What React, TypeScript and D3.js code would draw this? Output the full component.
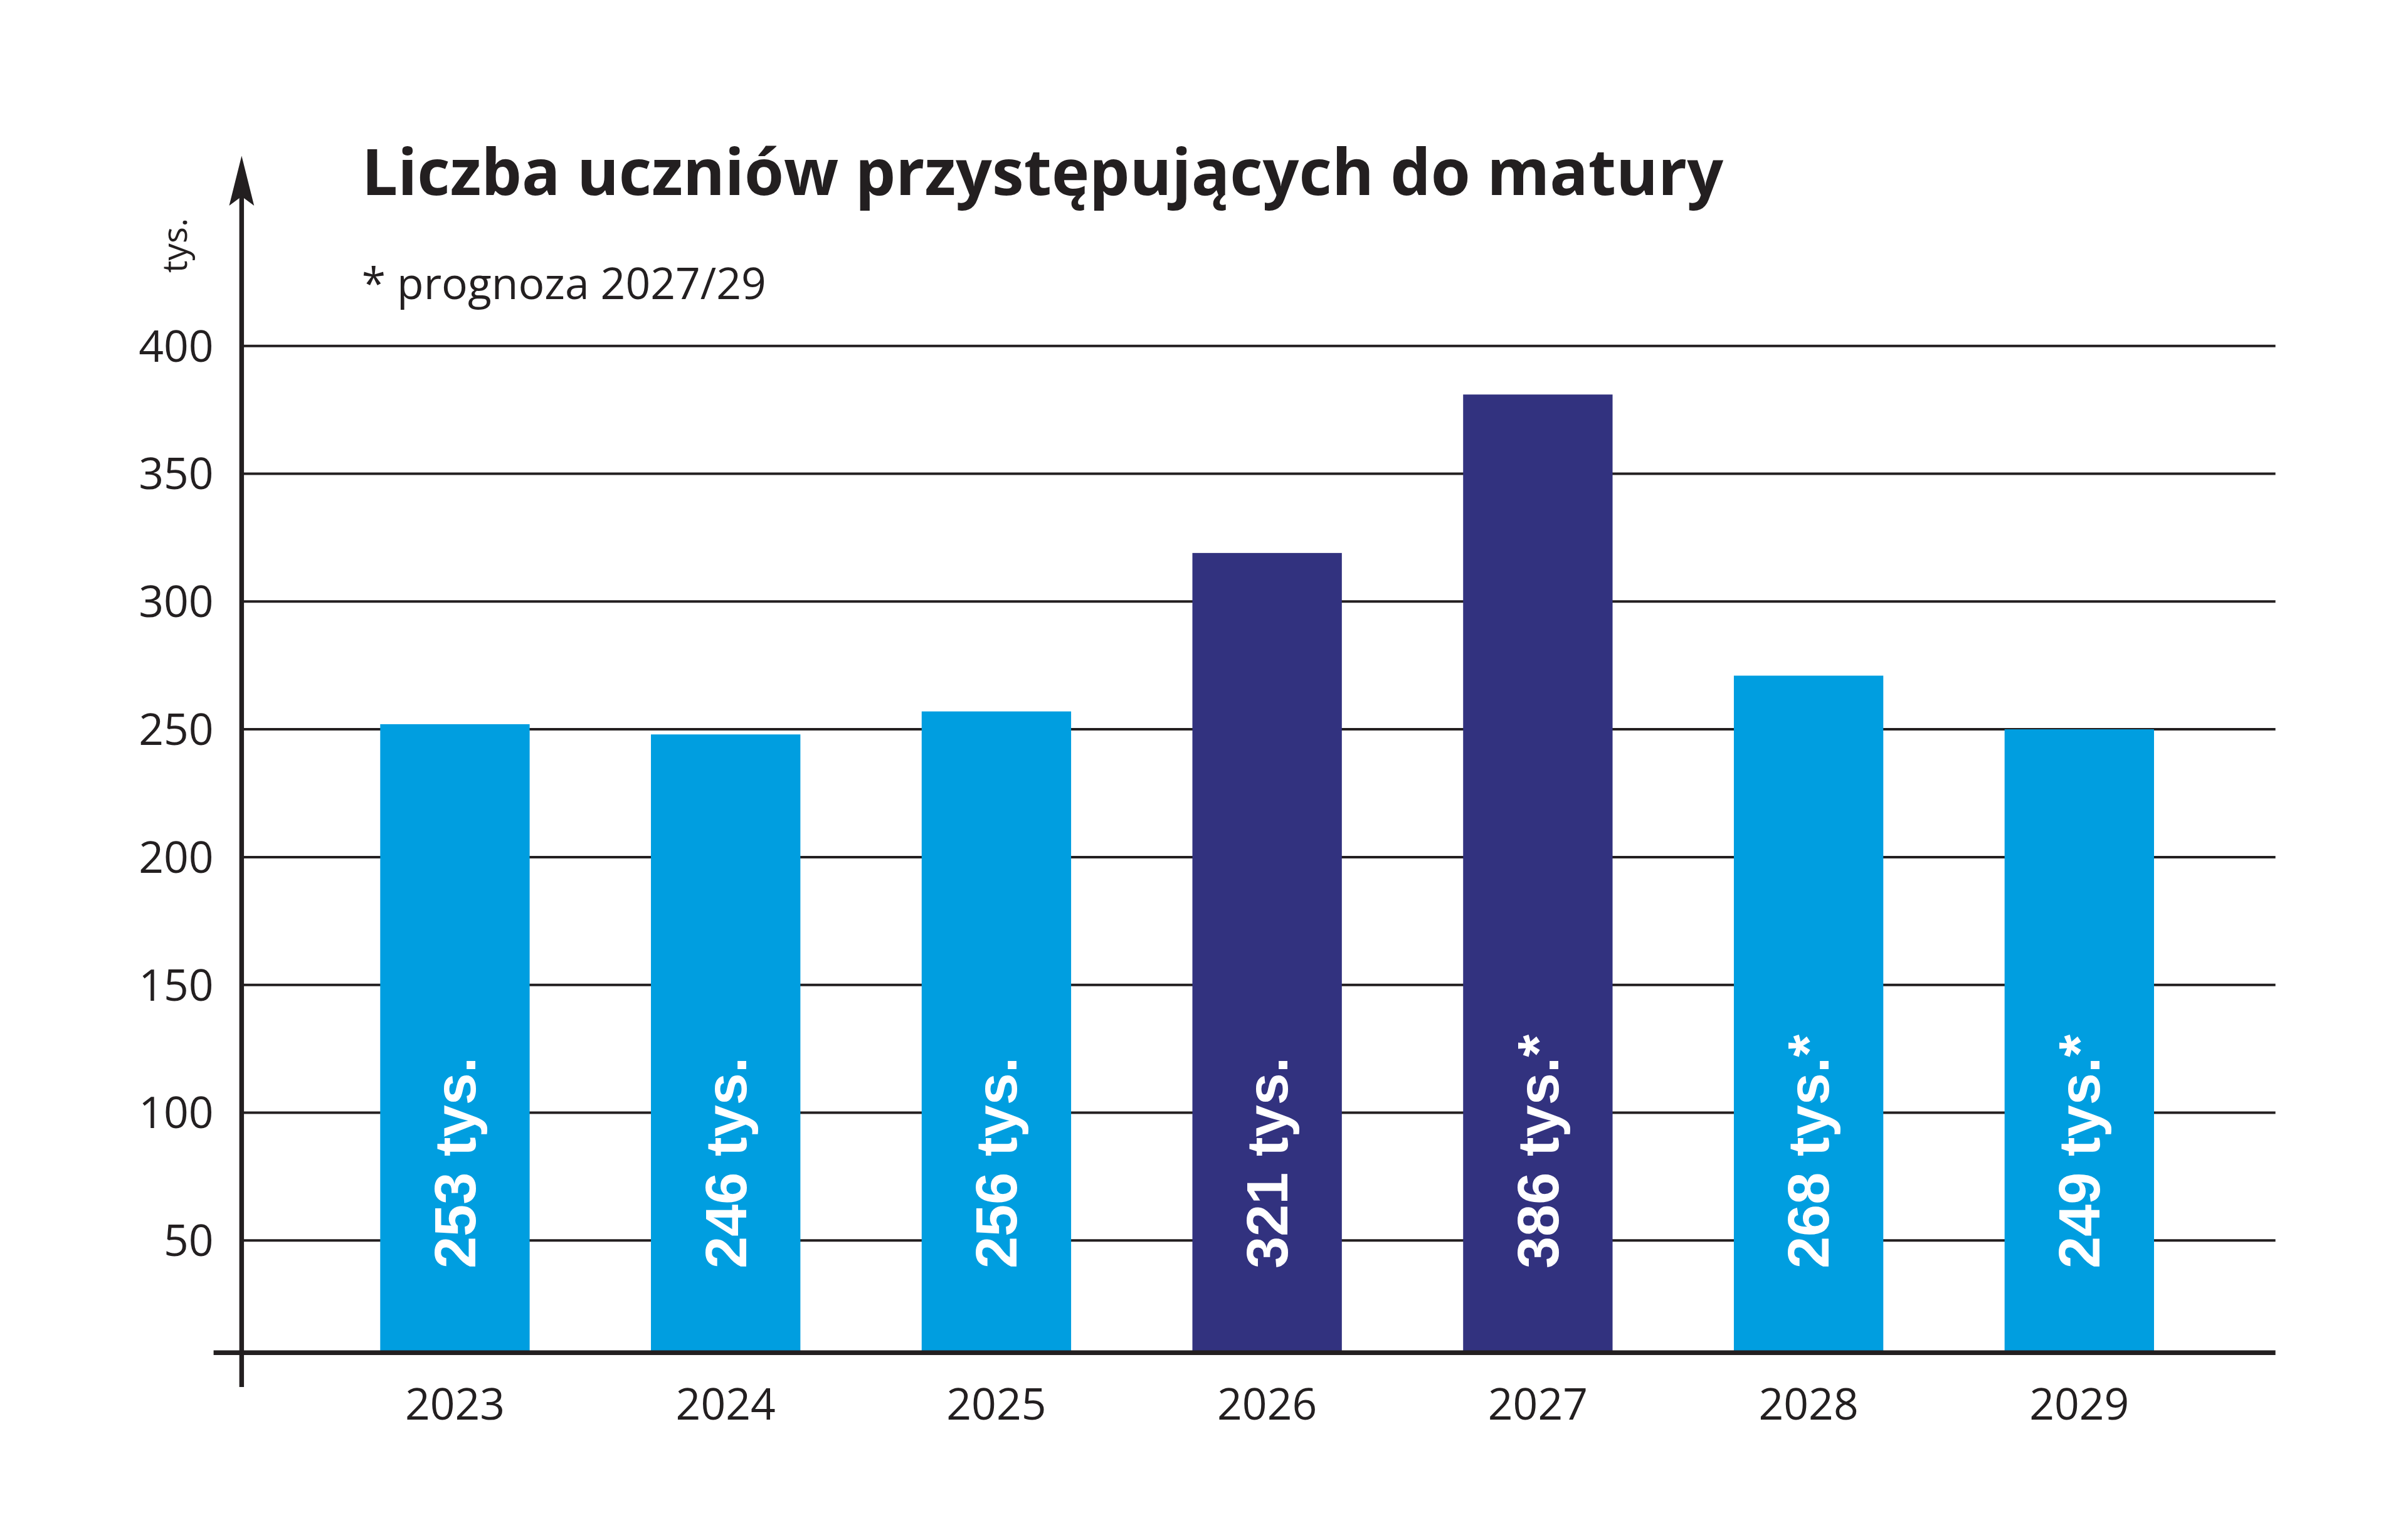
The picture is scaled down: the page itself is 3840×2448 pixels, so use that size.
import React from "react";
import * as d3 from "d3";

const years = ["2023", "2024", "2025", "2026", "2027", "2028", "2029"];
const barValues = [252, 248, 257, 319, 381, 271, 250];
const labels = ["253 tys.", "246 tys.", "256 tys.", "321 tys.", "386 tys.*", "268 tys.*", "249 tys.*"];
const dark = [false, false, false, true, true, false, false];
const yTicks = [50, 100, 150, 200, 250, 300, 350, 400];

export default function App() {
  const W = 1545, H = 985;
  const y = d3.scaleLinear().domain([0, 400]).range([878, 222]);
  const x = d3.scaleBand().domain(years).range([205, 1421]).paddingInner(0.448).paddingOuter(0.224);
  const base = 868;
  const font = "'Open Sans', sans-serif";
  return (
    <svg width={3840} height={2448} viewBox={`0 0 ${W} ${H}`} style={{ position: "absolute", left: 0, top: 0, background: "#fff" }}>
      <rect width={W} height={H} fill="#fff" />
      {yTicks.map(t => (
        <g key={t}>
          <line x1={155} x2={1460} y1={y(t)} y2={y(t)} stroke="#231f20" strokeWidth={1.6} />
          <text x={137} y={y(t) + 10} textAnchor="end" fontFamily={font} fontSize={28} fill="#231f20">{t}</text>
        </g>
      ))}
      {years.map((yr, i) => {
        const bx = x(yr)!, bw = x.bandwidth();
        const cx = bx + bw / 2;
        return (
          <g key={yr}>
            <rect x={bx} y={y(barValues[i])} width={bw} height={base - y(barValues[i])} fill={dark[i] ? "#32327f" : "#009ee0"} />
            <text transform={`translate(${cx + 13},${814}) rotate(-90)`} fontFamily="'Liberation Sans', Arial, sans-serif" fontWeight="bold" fontSize={37} fill="#fff">{labels[i]}</text>
            <text x={cx} y={911} textAnchor="middle" fontFamily={font} fontSize={28} fill="#231f20">{yr}</text>
          </g>
        );
      })}
      <line x1={137} x2={1460} y1={base} y2={base} stroke="#231f20" strokeWidth={3} />
      <line x1={155} x2={155} y1={890} y2={115} stroke="#231f20" strokeWidth={3} />
      <path d="M155,100 L147,132 L155,126 L163,132 Z" fill="#231f20" />
      <text transform="translate(120,175) rotate(-90)" fontFamily={font} fontSize={22} fill="#231f20">tys.</text>
      <text x={232} y={125} fontFamily={font} fontWeight="bold" fontSize={41} fill="#231f20">Liczba uczniów przystępujących do matury</text>
      <text x={232} y={192} fontFamily={font} fontSize={28} fill="#231f20">* prognoza 2027/29</text>
    </svg>
  );
}
